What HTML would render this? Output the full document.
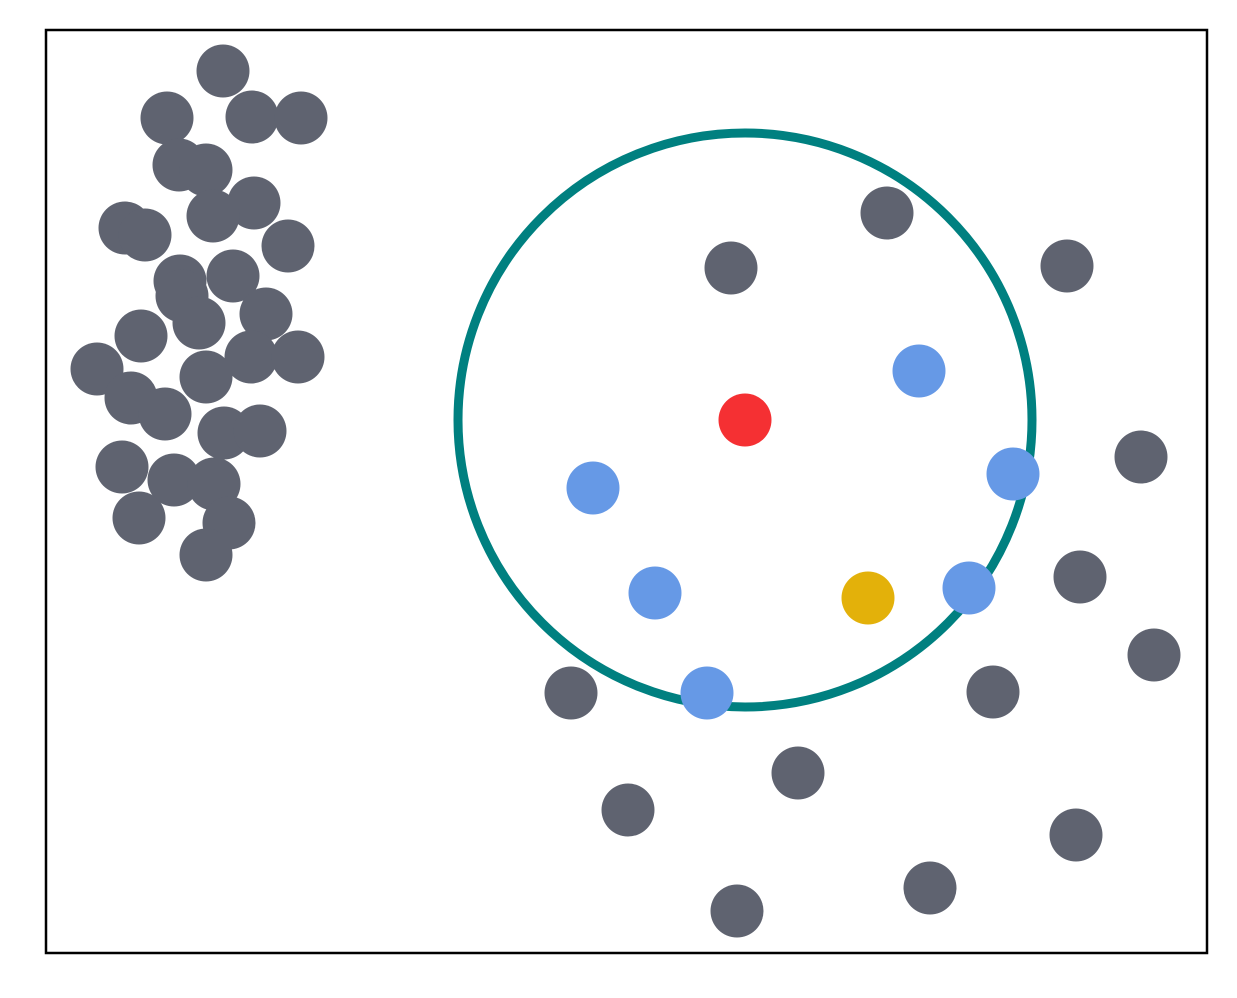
<!DOCTYPE html>
<html><head><meta charset="utf-8"><style>body{margin:0;background:#fff}svg{display:block}</style></head>
<body>
<svg id="chart" width="1237" height="998" viewBox="0 0 1237 998" xmlns="http://www.w3.org/2000/svg">
<rect x="46" y="30" width="1161" height="923" fill="#fff" stroke="#000" stroke-width="2.5"/>
<g id="marks"></g>
</svg>
<script>
const greyX=[177,121,206,255,133,160,208,167,79,99,242,134,187,136,153,220,95,51,205,252,160,85,119,178,214,76,128,168,93,183,160,685,841,1021,1095,1034,1108,947,525,752,582,1030,884,691];
const greyY=[882,835,836,835,788,783,750,737,725,718,707,672,677,657,630,639,617,584,596,596,576,555,539,520,522,486,473,469,435,430,398,685,740,687,496,376,298,261,260,180,143,118,65,42];
const blueX=[873,967,547,609,923,661];
const blueY=[582,479,465,360,365,260];
const centerX=[699];const centerY=[533];
const queryX=[822];const queryY=[355];
const radiusData=[287];
const xs=v=>46+v, ys=v=>953-v;
const NS="http://www.w3.org/2000/svg";
const g=document.getElementById('marks');
function dot(x,y,c,name){const e=document.createElementNS(NS,'circle');e.setAttribute('cx',xs(x));e.setAttribute('cy',ys(y));e.setAttribute('r',26.5);e.setAttribute('fill',c);


g.appendChild(e);}
const ring=document.createElementNS(NS,'circle');
ring.setAttribute('cx',xs(centerX[0]));ring.setAttribute('cy',ys(centerY[0]));ring.setAttribute('r',radiusData[0]);
ring.setAttribute('fill','none');ring.setAttribute('stroke','#008080');ring.setAttribute('stroke-width','9');


g.appendChild(ring);
greyX.forEach((x,i)=>dot(x,greyY[i],'#5f6370','grey-point'));
blueX.forEach((x,i)=>dot(x,blueY[i],'#6699e6','neighbor-point'));
dot(centerX[0],centerY[0],'#f53033','center-point');
dot(queryX[0],queryY[0],'#e3b10a','highlight-point');
</script>
</body></html>
